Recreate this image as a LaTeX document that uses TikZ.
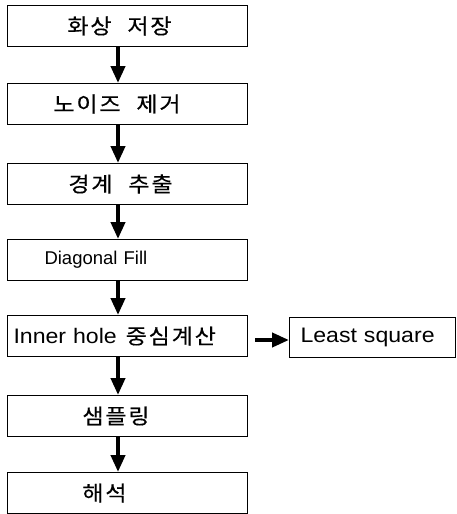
\documentclass[tikz,border=0pt]{standalone}
\usepackage{fontspec}
\setmainfont{Liberation Sans}
\newfontfamily\kr[FakeStretch=1.1,FakeBold=0.4]{Noto Sans CJK KR}
\newfontfamily\lat[FakeStretch=1.1]{Liberation Sans}
\newcommand\hgl[1]{\makebox[23pt]{\kr #1}}
\newcommand\hgap{\hspace*{14pt}}
\usetikzlibrary{arrows.meta}
\tikzset{
  stepbox/.style={draw, line width=1pt, rectangle, anchor=north west,
    minimum width=240pt, minimum height=41pt, text width=240pt,
    inner xsep=0pt, inner ysep=0pt, align=left,
    font=\fontsize{21}{25}\selectfont},
  flow/.style={line width=4pt, -{Triangle[length=17pt,width=14pt]}},
}
\begin{document}
\begin{tikzpicture}[x=1pt,y=-1pt]
\useasboundingbox (0,0) rectangle (456,514);
\coordinate (ax) at (118,0);
\node[stepbox] (b1) at (7,5)   {\hspace*{59pt}\hgl{화}\hgl{상}\hgap\hgl{저}\hgl{장}};
\node[stepbox] (b2) at (7,83)  {\hspace*{45pt}\hgl{노}\hgl{이}\hgl{즈}\hgap\hgl{제}\hgl{거}};
\node[stepbox] (b3) at (7,163) {\hspace*{60pt}\hgl{경}\hgl{계}\hgap\hgl{추}\hgl{출}};
\node[stepbox, font=\fontsize{18.5}{22}\selectfont] (b4) at (7,239) {\hspace*{37pt}Diagonal Fill};
\node[stepbox] (b5) at (7,315) {\hspace*{6pt}{\lat Inner hole}\hspace*{8pt}\hgl{중}\hgl{심}\hgl{계}\hgl{산}};
\node[stepbox] (b6) at (7,395) {\hspace*{74pt}\hgl{샘}\hgl{플}\hgl{링}};
\node[stepbox] (b7) at (7,472) {\hspace*{74pt}\hgl{해}\hgl{석}};
\node[stepbox, minimum width=166pt, text width=166pt, minimum height=40pt] (ls) at (289,317) {\hspace*{11pt}\lat Least square};
\draw[flow] (b1.south -| ax) -- (b2.north -| ax);
\draw[flow] (b2.south -| ax) -- (b3.north -| ax);
\draw[flow] (b3.south -| ax) -- (b4.north -| ax);
\draw[flow] (b4.south -| ax) -- (b5.north -| ax);
\draw[flow] (b5.south -| ax) -- (b6.north -| ax);
\draw[flow] (b6.south -| ax) -- (b7.north -| ax);
\draw[flow, shorten <=7pt] ([yshift=-4pt]b5.east) -- ([yshift=-4pt]b5.east -| ls.west);
\end{tikzpicture}
\end{document}
